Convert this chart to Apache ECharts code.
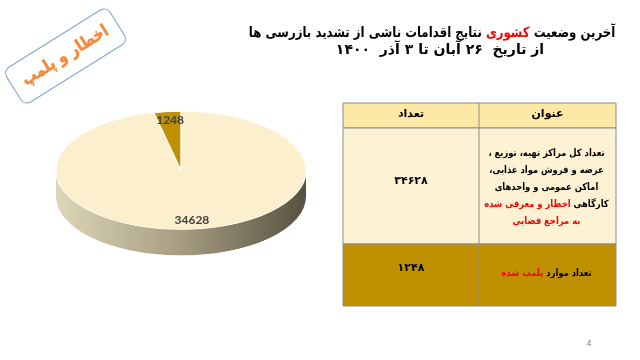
<!DOCTYPE html>
<html>
<head>
<meta charset="utf-8">
<script src="https://cdn.jsdelivr.net/npm/echarts@6/dist/echarts.min.js"></script>
<style>
html,body{margin:0;padding:0;background:#ffffff;width:640px;height:360px;overflow:hidden;}
#main{position:absolute;left:0;top:0;width:640px;height:360px;z-index:2;}
#pie{position:absolute;left:0;top:84.6px;width:362px;height:370px;z-index:1;transform:scaleY(0.472);transform-origin:0 0;}
</style>
</head>
<body>
<div id="pie"></div>
<div id="main"></div>
<script>
// ---- data ----
var categories = ['اخطار و معرفی شده', 'پلمپ شده'];
var values = [34628, 1248];
var sliceColors = ['#fcefcd', '#bf9000'];
var tableHeaders = ['تعداد', 'عنوان'];
var rowDescriptions = [
  ['{b|\u200Fتعداد کل مراکز تهیه، توزیع ،\u200F}',
   '{b|\u200Fعرضه و فروش مواد غذایی،\u200F}',
   '{b|\u200Fاماکن عمومی و واحدهای\u200F}',
   '{r|\u200Fاخطار و معرفی شده\u200F}{b| }{b|\u200Fکارگاهی\u200F}',
   '{r|\u200Fبه مراجع قضایی\u200F}'],
  ['{r|\u200Fپلمپ شده\u200F}{b| }{b|\u200Fتعداد موارد\u200F}']
];
var titleLine1 = '{b|\u200Fنتایج اقدامات ناشی از تشدید بازرسی ها\u200F}{b| }{r|\u200Fکشوری\u200F}{b| }{b|\u200Fآخرین وضعیت\u200F}';
var titleLine2 = '\u200Fاز تاریخ  ۲۶ آبان تا ۳ آذر  ۱۴۰۰\u200F';
var stampText = 'اخطار و پلمپ';
var pageNumber = '4';

function toFa(n){ return String(n).replace(/[0-9]/g, function(d){ return '۰۱۲۳۴۵۶۷۸۹'[+d]; }); }

// ---- pie (squashed via CSS to fake 3D) ----
var PCX = 181, PCY = 181, PR = 125, DEPTH = 55, SQ = 0.472, PIE_TOP = 84.6;
var pie = echarts.init(document.getElementById('pie'), null, {renderer:'canvas'});
function sideFill(){
  return new echarts.graphic.LinearGradient(0,0,1,0,[{offset:0,color:'#ddd6b8'},{offset:0.5,color:'#a69d82'},{offset:1,color:'#57523f'}]);
}
pie.setOption({
  animation:false,
  graphic:[{
    type:'group', z:0, silent:true,
    children:[
      {type:'rect', shape:{x:PCX-PR, y:PCY, width:PR*2, height:DEPTH}, style:{fill:sideFill()}},
      {type:'circle', shape:{cx:PCX, cy:PCY+DEPTH, r:PR}, style:{fill:sideFill()}}
    ]
  }],
  series:[{
    type:'pie', z:5, center:[PCX,PCY], radius:[0,PR], startAngle:90, clockwise:true,
    silent:true, label:{show:false}, labelLine:{show:false},
    itemStyle:{borderColor:'#fffaf0', borderWidth:1.5},
    data: values.map(function(v,i){ return {name:categories[i], value:v, itemStyle:{color:sliceColors[i]}}; })
  }]
});

// ---- main overlay ----
var main = echarts.init(document.getElementById('main'), null, {renderer:'canvas'});
var AR = 'DejaVu Sans';
var g = [];

// pie labels computed from data with same geometry
var total = values.reduce(function(a,b){return a+b;},0);
var a0 = 90, cxS = PCX, cyS = PIE_TOP + PCY*SQ, rx = PR, ry = PR*SQ;
values.forEach(function(v,i){
  var span = v/total*360, mid = (a0 - span/2)*Math.PI/180;
  a0 -= span;
  g.push({type:'text', x:cxS + rx*0.8*Math.cos(mid), y:cyS - ry*0.85*Math.sin(mid),
    style:{text:String(v), font:'bold 12px Lato', fill:'#404040', align:'center', verticalAlign:'middle'}});
});

// title
g.push({type:'text', x:432, y:33, scaleX:0.84, style:{text:titleLine1, align:'center', verticalAlign:'middle',
  rich:{b:{font:'bold 14px "'+AR+'"', fill:'#000'}, r:{font:'bold 14px "'+AR+'"', fill:'#ff0000'}}}});
g.push({type:'text', x:440, y:50, style:{text:titleLine2, align:'center', verticalAlign:'middle',
  font:'bold 14px "'+AR+'"', fill:'#000'}});

// stamp
g.push({type:'group', x:65.5, y:56, rotation:32*Math.PI/180, children:[
  {type:'rect', shape:{x:-61, y:-20.5, width:122, height:41, r:7}, style:{fill:'rgba(255,255,255,0)', stroke:'#7ea6d2', lineWidth:1}},
  {type:'text', x:0, y:0, scaleX:0.85, style:{text:stampText, font:'bold 17px "'+AR+'"', fill:'#f68a3a', stroke:'#e07020', lineWidth:0.4, align:'center', verticalAlign:'middle'}}
]});

// table
var TL = 343, TR = 616, TC = 479, rowsY = [103, 128, 244, 306];
var rowFills = ['#fde8a6', '#fef2d4', '#bf9000'];
for (var r = 0; r < 3; r++) {
  g.push({type:'rect', shape:{x:TL, y:rowsY[r], width:TR-TL, height:rowsY[r+1]-rowsY[r]}, style:{fill:rowFills[r], stroke:'#8c8c8c', lineWidth:1}});
}
g.push({type:'line', shape:{x1:TC, y1:rowsY[0], x2:TC, y2:rowsY[3]}, style:{stroke:'#8c8c8c', lineWidth:1}});
var colL = (TL+TC)/2, colR = (TC+TR)/2;
g.push({type:'text', x:colL, y:114, style:{text:tableHeaders[0], font:'bold 11px "'+AR+'"', fill:'#000', align:'center', verticalAlign:'middle'}});
g.push({type:'text', x:colR, y:114, style:{text:tableHeaders[1], font:'bold 11px "'+AR+'"', fill:'#000', align:'center', verticalAlign:'middle'}});
var numY = [181, 268], descY = [187, 273];
values.forEach(function(v,i){
  g.push({type:'text', x:colL, y:numY[i], style:{text:toFa(v), font:'bold 11px "'+AR+'"', fill:'#000', align:'center', verticalAlign:'middle'}});
  g.push({type:'text', x:colR - 1, y:descY[i], scaleX:0.84, style:{text:rowDescriptions[i].join('\n'), align:'center', verticalAlign:'middle', lineHeight:17,
    rich:{b:{font:'bold 10px "'+AR+'"', fill:'#000', lineHeight:17}, r:{font:'bold 10px "'+AR+'"', fill:'#ff0000', lineHeight:17}}}});
});

// page number
g.push({type:'text', x:589, y:344, style:{text:pageNumber, font:'9px "Liberation Sans"', fill:'#7f7f7f', align:'center', verticalAlign:'middle'}});

main.setOption({animation:false, backgroundColor:'transparent', graphic:g});
</script>
</body>
</html>
